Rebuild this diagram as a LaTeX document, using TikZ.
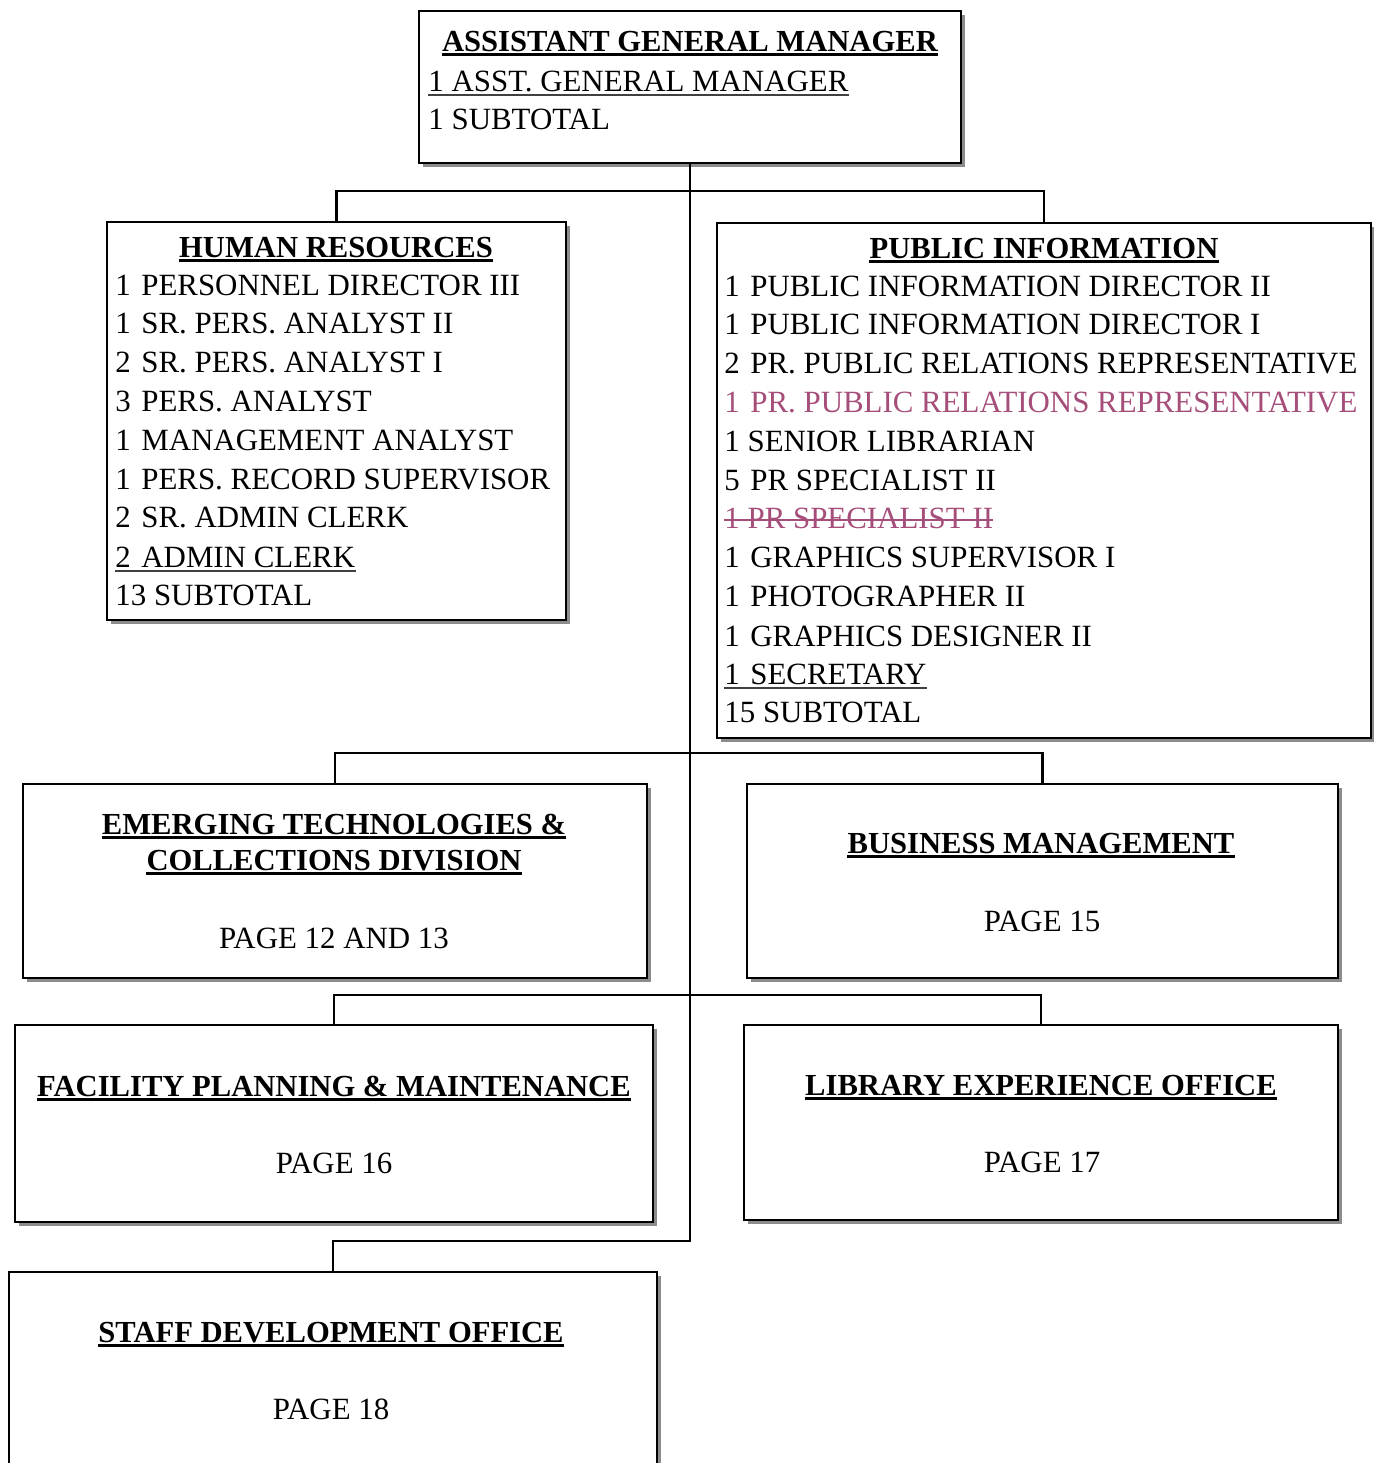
\documentclass[tikz,border=0pt]{standalone}
\usepackage{fontspec}
\setmainfont{Liberation Serif}
\usetikzlibrary{fit,shadows}
\definecolor{mauve}{RGB}{166,78,122}
\newcommand\nb[1]{\makebox[13pt][l]{#1}}
\begin{document}
\begin{tikzpicture}[x=0.5pt,y=-0.5pt,
 box/.style={draw, line width=1.2pt, fill=white, inner sep=0pt,
   drop shadow={shadow xshift=2.2pt, shadow yshift=-2.2pt, fill=black!45, opacity=1}},
 conn/.style={line width=1.1pt},
 tx/.style={anchor=base west, inner sep=0pt, font=\fontsize{15.45}{18}\selectfont},
 hd/.style={anchor=base, inner sep=0pt, font=\fontsize{15.3}{18}\selectfont\bfseries},
 pg/.style={anchor=base, inner sep=0pt, font=\fontsize{15.45}{18}\selectfont},
 ulh/.style={line width=1.5pt},
 ult/.style={line width=0.8pt, black!75}]
\useasboundingbox (0,0) rectangle (1373,1463);
% boxes
\node[box, fit={(419,11) (961,163)}] (agm) {};
\node[box, fit={(107,222) (566,620)}] (hr) {};
\node[box, fit={(717,223) (1371,738)}] (pi) {};
\node[box, fit={(23,784) (647,978)}] (etc) {};
\node[box, fit={(747,784) (1338,978)}] (bm) {};
\node[box, fit={(15,1025) (653,1222)}] (fpm) {};
\node[box, fit={(744,1025) (1338,1220)}] (leo) {};
\node[box, fit={(9,1272) (657,1530)}] (sdo) {};
% connectors
\draw[conn] (agm.south) |- ([yshift=15pt]sdo.north) -- (sdo.north);
\draw[conn] (hr.north) -- ([yshift=15pt]hr.north) -| (pi.north);
\draw[conn] (etc.north) -- ([yshift=15pt]etc.north) -| (bm.north);
\draw[conn] (fpm.north) -- ([yshift=14.5pt]fpm.north) -| (leo.north);
% AGM
\node[hd] (agmh) at (690,51) {ASSISTANT GENERAL MANAGER};
\node[tx] (agm1) at (428,91) {1 ASST. GENERAL MANAGER};
\node[tx] (agm2) at (428,129) {1 SUBTOTAL};
\draw[ulh] ([yshift=-1.6pt]agmh.base west) -- ([yshift=-1.6pt]agmh.base east);
\draw[ult] ([yshift=-2pt]agm1.base west) -- ([yshift=-2pt]agm1.base east);
% HR
\node[hd] (hrh) at (336,257) {HUMAN RESOURCES};
\node[tx] (hr1) at (115,295) {\nb{1}PERSONNEL DIRECTOR III};
\node[tx] (hr2) at (115,333) {\nb{1}SR. PERS. ANALYST II};
\node[tx] (hr3) at (115,372) {\nb{2}SR. PERS. ANALYST I};
\node[tx] (hr4) at (115,411) {\nb{3}PERS. ANALYST};
\node[tx] (hr5) at (115,450) {\nb{1}MANAGEMENT ANALYST};
\node[tx] (hr6) at (115,489) {\nb{1}PERS. RECORD SUPERVISOR};
\node[tx] (hr7) at (115,527) {\nb{2}SR. ADMIN CLERK};
\node[tx] (hr8) at (115,567) {\nb{2}ADMIN CLERK};
\node[tx] (hr9) at (115,605) {13 SUBTOTAL};
\draw[ulh] ([yshift=-1.6pt]hrh.base west) -- ([yshift=-1.6pt]hrh.base east);
\draw[ult] ([yshift=-2pt]hr8.base west) -- ([yshift=-2pt]hr8.base east);
% PI
\node[hd] (pih) at (1044,258) {PUBLIC INFORMATION};
\node[tx] (pi1) at (724,296) {\nb{1}PUBLIC INFORMATION DIRECTOR II};
\node[tx] (pi2) at (724,334) {\nb{1}PUBLIC INFORMATION DIRECTOR I};
\node[tx] (pi3) at (724,373) {\nb{2}PR. PUBLIC RELATIONS REPRESENTATIVE};
\node[tx, text=mauve] (pi4) at (724,412) {\nb{1}PR. PUBLIC RELATIONS REPRESENTATIVE};
\node[tx] (pi5) at (724,451) {1 SENIOR LIBRARIAN};
\node[tx] (pi6) at (724,490) {\nb{5}PR SPECIALIST II};
\node[tx, text=mauve] (pi7) at (724,528) {1 PR SPECIALIST II};
\node[tx] (pi8) at (724,567) {\nb{1}GRAPHICS SUPERVISOR I};
\node[tx] (pi9) at (724,606) {\nb{1}PHOTOGRAPHER II};
\node[tx] (pi10) at (724,646) {\nb{1}GRAPHICS DESIGNER II};
\node[tx] (pi11) at (724,684) {\nb{1}SECRETARY};
\node[tx] (pi12) at (724,722) {15 SUBTOTAL};
\draw[ulh] ([yshift=-1.6pt]pih.base west) -- ([yshift=-1.6pt]pih.base east);
\draw[ult] ([yshift=-2pt]pi11.base west) -- ([yshift=-2pt]pi11.base east);
\draw[line width=0.9pt, mauve] ([yshift=4.2pt]pi7.base west) -- ([yshift=4.2pt]pi7.base east);
% ETC
\node[hd] (etch1) at (334,834) {EMERGING TECHNOLOGIES \&};
\node[hd] (etch2) at (334,870) {COLLECTIONS DIVISION};
\node[pg] (etcp) at (334,948) {PAGE 12 AND 13};
\draw[ulh] ([yshift=-1.6pt]etch1.base west) -- ([yshift=-1.6pt]etch1.base east);
\draw[ulh] ([yshift=-1.6pt]etch2.base west) -- ([yshift=-1.6pt]etch2.base east);
% BM
\node[hd] (bmh) at (1041,853) {BUSINESS MANAGEMENT};
\node[pg] (bmp) at (1042,931) {PAGE 15};
\draw[ulh] ([yshift=-1.6pt]bmh.base west) -- ([yshift=-1.6pt]bmh.base east);
% FPM
\node[hd] (fpmh) at (334,1096) {FACILITY PLANNING \& MAINTENANCE};
\node[pg] (fpmp) at (334,1173) {PAGE 16};
\draw[ulh] ([yshift=-1.6pt]fpmh.base west) -- ([yshift=-1.6pt]fpmh.base east);
% LEO
\node[hd] (leoh) at (1041,1095) {LIBRARY EXPERIENCE OFFICE};
\node[pg] (leop) at (1042,1172) {PAGE 17};
\draw[ulh] ([yshift=-1.6pt]leoh.base west) -- ([yshift=-1.6pt]leoh.base east);
% SDO
\node[hd] (sdoh) at (331,1342) {STAFF DEVELOPMENT OFFICE};
\node[pg] (sdop) at (331,1419) {PAGE 18};
\draw[ulh] ([yshift=-1.6pt]sdoh.base west) -- ([yshift=-1.6pt]sdoh.base east);
\end{tikzpicture}
\end{document}
